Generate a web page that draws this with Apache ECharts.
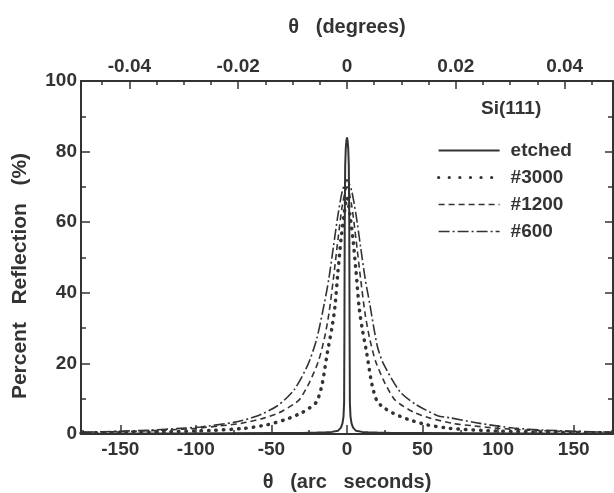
<!DOCTYPE html>
<html>
<head>
<meta charset="utf-8">
<script src="https://cdn.jsdelivr.net/npm/echarts@6/dist/echarts.min.js"></script>
<style>
html,body{margin:0;padding:0;background:#fff;}
#chart{width:614px;height:493px;}
</style>
</head>
<body>
<div id="chart"></div>
<script>
// ---- data (theta in arc seconds, reflection in %) ----
var etchedX = [-176,-120,-80,-50,-30,-20,-14,-10,-6,-4,-3,-2.3,-1.9,-1.7,-1.5,-1.2,-0.8,-0.4,0,0.4,0.8,1.2,1.5,1.7,1.9,2.3,3,4,6,10,14,20,30,50,80,120,176];
var etchedY = [0.1,0.15,0.2,0.25,0.3,0.4,0.5,0.6,0.9,1.8,3,5,9,30,60,76,81,83,84,83,81,76,60,30,9,5,3,1.8,0.9,0.6,0.5,0.4,0.3,0.25,0.2,0.15,0.1];

var s3000X = [-176,-150,-120,-90,-68,-53,-40,-30,-25,-20,-16.5,-13,-10,-8,-6,-4,-2,0,2,4,6,8,10,13,16.5,20,25,30,40,53,68,90,120,150,176];
var s3000Y = [0.3,0.4,0.6,1.0,1.6,2.6,4.2,6.0,7.3,9.2,14,23,30,36,46,55,62,67,62,55,46,36,30,23,14,9.2,7.3,6.0,4.2,2.6,1.6,1.0,0.6,0.4,0.3];

var s1200X = [-176,-150,-120,-100,-84,-70,-55,-45,-35,-31,-25,-19,-15,-12,-9,-6,-3,0,3,6,9,12,15,19,25,31,35,45,55,70,84,100,120,150,176];
var s1200Y = [0.5,0.7,1.1,1.6,2.3,3.0,4.5,6.0,8.5,10.0,14.5,20.5,27,34,44,55,65,70,65,55,44,34,27,20.5,14.5,10.0,8.5,6.0,4.5,3.0,2.3,1.6,1.1,0.7,0.5];

var s600X = [-176,-150,-130,-110,-97,-75,-60,-46,-35,-26,-20,-15,-12,-9,-6,-3,0,3,6,9,12,15,20,24,35,45,60,68,88,110,130,150,176];
var s600Y = [0.5,0.8,1.1,1.6,2.0,3.3,5.0,8.0,12.5,19.5,27,37,44,53,62,69,72,69,62,53,44,37,25,20,12,8.5,5.2,4.6,3.0,1.7,1.1,0.8,0.5];

// ---- axis ticks ----
var xMajorTicks = [-150,-100,-50,0,50,100,150];
var xMinorTicks = [-175,-125,-75,-25,25,75,125,175];
var degMajorTicks = [-0.04,-0.02,0,0.02,0.04];
var degMinorTicks = [-0.045,-0.035,-0.03,-0.025,-0.015,-0.01,-0.005,0.005,0.01,0.015,0.025,0.03,0.035,0.045];
var yTicks = [0,20,40,60,80,100];

var seriesNames = ['etched','#3000','#1200','#600'];

function pairs(xs, ys){ return xs.map(function(x,i){ return [x, ys[i]]; }); }
function toArcsec(d){ return Math.round(d*3600*1000)/1000; }

var INK = '#333333';
var FONT = 'Liberation Sans, Arial, Helvetica, sans-serif';
var XMIN = -176, XMAX = 176;

var styles = [
  {color:INK, width:2, type:'solid'},
  {color:INK, width:3.5, type:[0.5,7], cap:'round'},
  {color:INK, width:1.6, type:[6,4]},
  {color:INK, width:1.6, type:[11,3,2,3]}
];
var legendStyles = [
  {color:INK, width:2, type:'solid'},
  {color:INK, width:3.2, type:[0.1,10.5], cap:'round'},
  {color:INK, width:1.6, type:[6,4]},
  {color:INK, width:1.6, type:[11,3,2,3]}
];

var chart = echarts.init(document.getElementById('chart'), null, {renderer:'canvas'});
var option = {
  animation:false,
  backgroundColor:'#ffffff',
  textStyle:{fontFamily:FONT},
  grid:{left:81, right:1, top:81, bottom:59, containLabel:false, outerBoundsMode:'none'},
  graphic:[{
    type:'text', left:481, top:99,
    style:{text:'Si(111)', fill:INK, font:'bold 19px '+FONT}
  },{
    type:'text', x:20, y:276, rotation:Math.PI/2,
    style:{text:'Percent   Reflection   (%)', fill:INK, font:'bold 21px '+FONT, textAlign:'center', textVerticalAlign:'middle'}
  }],
  legend:{
    orient:'vertical', left:432, top:136, itemWidth:61, itemHeight:12, itemGap:8,
    data:seriesNames.map(function(n,i){ return {name:n, lineStyle:legendStyles[i]}; }),
    itemStyle:{opacity:0, borderWidth:0},
    textStyle:{color:INK, fontSize:19, fontWeight:'bold', fontFamily:FONT, padding:[0,0,0,6]},
    inactiveColor:INK
  },
  xAxis:[
    {type:'value', position:'bottom', min:XMIN, max:XMAX,
     axisLine:{show:true, onZero:false, lineStyle:{color:INK, width:2}},
     axisTick:{show:true, inside:true, length:9, customValues:xMajorTicks, lineStyle:{color:INK,width:1.5}},
     axisLabel:{show:true, customValues:xMajorTicks, color:INK, fontSize:19, fontWeight:'bold', fontFamily:FONT, margin:6},
     splitLine:{show:false},
     name:'θ   (arc   seconds)', nameLocation:'middle', nameGap:38,
     nameTextStyle:{color:INK, fontSize:20, fontWeight:'bold', fontFamily:FONT}
    },
    {type:'value', position:'bottom', min:XMIN, max:XMAX,
     axisLine:{show:false, onZero:false},
     axisTick:{show:true, inside:true, length:4, customValues:xMinorTicks, lineStyle:{color:INK,width:1.5}},
     axisLabel:{show:false}, splitLine:{show:false}
    },
    {type:'value', position:'top', min:XMIN, max:XMAX,
     axisLine:{show:true, onZero:false, lineStyle:{color:INK, width:2}},
     axisTick:{show:true, inside:true, length:8, customValues:degMajorTicks.map(toArcsec), lineStyle:{color:INK,width:1.5}},
     axisLabel:{show:true, customValues:degMajorTicks.map(toArcsec), color:INK, fontSize:19, fontWeight:'bold', fontFamily:FONT, margin:5,
       formatter:function(v){ var d = Math.round(v/3600*100)/100; return d===0 ? '0' : d.toFixed(2); }},
     splitLine:{show:false},
     name:'θ   (degrees)', nameLocation:'middle', nameGap:44,
     nameTextStyle:{color:INK, fontSize:20, fontWeight:'bold', fontFamily:FONT}
    },
    {type:'value', position:'top', min:XMIN, max:XMAX,
     axisLine:{show:false, onZero:false},
     axisTick:{show:true, inside:true, length:4, customValues:degMinorTicks.map(toArcsec), lineStyle:{color:INK,width:1.5}},
     axisLabel:{show:false}, splitLine:{show:false}
    }
  ],
  yAxis:[
    {type:'value', position:'left', min:0, max:100, interval:20,
     axisLine:{show:true, onZero:false, lineStyle:{color:INK, width:2}},
     axisTick:{show:true, inside:true, length:9, lineStyle:{color:INK,width:1.5}},
     minorTick:{show:true, splitNumber:2, length:5, lineStyle:{color:INK,width:1.5}},
     axisLabel:{show:true, customValues:yTicks, color:INK, fontSize:19, fontWeight:'bold', fontFamily:FONT, margin:4},
     splitLine:{show:false}
    },
    {type:'value', position:'right', min:0, max:100, interval:20,
     axisLine:{show:true, onZero:false, lineStyle:{color:INK, width:2}},
     axisTick:{show:true, inside:true, length:8, lineStyle:{color:INK,width:1.5}},
     minorTick:{show:true, splitNumber:2, length:5, lineStyle:{color:INK,width:1.5}},
     axisLabel:{show:false}, splitLine:{show:false}
    }
  ],
  series:[
    {name:seriesNames[0], type:'line', data:pairs(etchedX, etchedY), symbol:'none', smooth:false,
     lineStyle:styles[0], itemStyle:{color:INK}, z:5},
    {name:seriesNames[1], type:'line', data:pairs(s3000X, s3000Y), symbol:'none', smooth:0.25,
     lineStyle:styles[1], itemStyle:{color:INK}},
    {name:seriesNames[2], type:'line', data:pairs(s1200X, s1200Y), symbol:'none', smooth:0.25,
     lineStyle:styles[2], itemStyle:{color:INK}},
    {name:seriesNames[3], type:'line', data:pairs(s600X, s600Y), symbol:'none', smooth:0.25,
     lineStyle:styles[3], itemStyle:{color:INK}}
  ]
};
chart.setOption(option);
</script>
</body>
</html>
